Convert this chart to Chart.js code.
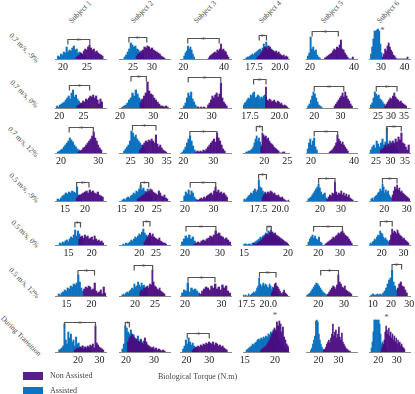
<!DOCTYPE html>
<html>
<head>
<meta charset="utf-8">
<script src="https://cdn.jsdelivr.net/npm/chart.js@4.4.1/dist/chart.umd.min.js"></script>
<style>
  body { margin: 0; background: #fff; }
  #fig { position: relative; width: 415px; height: 394px; overflow: hidden; background: #fff; font-family: "Liberation Serif", serif; }
  #fig canvas { position: absolute; }
  .lbl { position: absolute; white-space: nowrap; color: #444; font-size: 7.5px; line-height: 1; }
  .box { position: absolute; width: 20px; height: 8px; }
</style>
</head>
<body>
<div id="fig"></div>
<script>
// rows = walking conditions, columns = subjects, panels listed row by row
const conditions = ['0.7 m/s, -9%', '0.7 m/s, 0%', '0.7 m/s, 12%', '0.5 m/s, -9%', '0.5 m/s, 0%', '0.5 m/s, 12%', 'During Transition'];
const subjects = ['Subject 1', 'Subject 2', 'Subject 3', 'Subject 4', 'Subject 5', 'Subject 6'];
const seriesNames = ['Non Assisted', 'Assisted'];
const xTitle = 'Biological Torque (N.m)';

const axisRange = [
  [18.3, 29], [21.3, 34.7], [18.4, 43.4], [16.44, 20.87], [18.2, 41.4], [24.9, 42.3],
  [19.1, 29.7], [19.7, 35.0], [18.8, 36.8], [16.9, 20.8], [16.9, 36.2], [21.5, 37.3],
  [18.4, 32.1], [21.75, 35.9], [18.9, 35.9], [15.4, 25.4], [17.7, 41.4], [22.6, 36.7],
  [12.5, 25.25], [14.2, 28.8], [18.2, 36.2], [15.7, 21.0], [13.3, 37.6], [13.2, 31.5],
  [12.1, 23.1], [13.9, 29.2], [18.6, 33.1], [14.9, 20.1], [14.3, 37.8], [14.1, 33.0],
  [12.7, 22.9], [16, 28.75], [18.6, 32.6], [17.1, 22.4], [15.2, 35], [8, 30.4],
  [9.3, 33], [17.5, 35.7], [17.1, 39.6], [14.7, 22.3], [13.8, 39.3], [14.9, 37.3]
];

const tickLabels = [
  ['20', '25'], ['25', '30'], ['20', '40'], ['17.5', '20.0'], ['20', '40'], ['30', '40'],
  ['20', '25'], ['20', '30'], ['20', '30'], ['17.5', '20.0'], ['20', '30'], ['25', '30', '35'],
  ['20', '30'], ['25', '30', '35'], ['20', '30'], ['20', '25'], ['20', '40'], ['25', '30', '35'],
  ['15', '20'], ['15', '20', '25'], ['20', '30'], ['17.5', '20.0'], ['20', '30'], ['20', '30'],
  ['15', '20'], ['20', '25'], ['20', '30'], ['15', '20'], ['20', '30'], ['20', '30'],
  ['15', '20'], ['20', '25'], ['20', '30'], ['17.5', '20.0'], ['20', '30'], ['10', '20', '30'],
  ['20', '30'], ['20', '30'], ['20', '30'], ['15', '20'], ['20', '30'], ['20', '30']
];

const binWidth = [
  0.3, 0.4, 0.6, 0.12, 0.6, 0.5,
  0.3, 0.5, 0.5, 0.1, 0.5, 0.5,
  0.4, 0.4, 0.5, 0.25, 0.6, 0.5,
  0.4, 0.4, 0.5, 0.15, 0.6, 0.5,
  0.3, 0.4, 0.5, 0.15, 0.6, 0.5,
  0.3, 0.3, 0.5, 0.12, 0.5, 0.8,
  0.6, 0.5, 0.6, 0.2, 0.5, 0.5
];

const assistedStart = [
  18.8, 22.6, 20.2, 16.7, 18.8, 25.5,
  19.4, 20.5, 20.0, 16.9, 17.5, 22,
  19.0, 23, 19.5, 16, 18.2, 23,
  13, 15, 19.5, 15.8, 14.2, 14,
  13, 15, 19, 15, 15.2, 14.5,
  13.3, 16.7, 19, 17.1, 15.5, 9,
  11, 18.5, 18.2, 15.2, 16, 16
];

const assistedCounts = [
  [3, 2, 5, 4, 7, 6, 12, 7, 9, 8, 11, 13, 9, 10, 6, 7, 5, 4, 3, 2],
  [2, 4, 7, 10, 16, 14, 12, 13, 10, 9, 7, 5, 3],
  [3, 6, 8, 13, 10, 12, 9, 5, 2],
  [1, 2, 2, 3, 4, 5, 4, 6, 7, 8, 9, 10, 8, 11, 15, 12, 17, 13, 10, 9, 8, 7, 6, 5, 4, 3, 2, 1],
  [3, 6, 22, 10, 12, 8, 9, 4, 2, 1],
  [5, 12, 20, 28, 28, 29, 30, 28, 15, 6],

  [2, 1, 3, 4, 5, 6, 8, 10, 12, 9, 15, 18, 11, 13, 9, 7, 5, 3, 2],
  [1, 2, 3, 5, 8, 10, 15, 12, 18, 14, 10, 8, 6],
  [2, 5, 10, 15, 12, 16, 9, 6, 3, 1],
  [3, 5, 6, 8, 10, 9, 13, 12, 15, 16, 10, 11, 13, 12, 9, 11, 10, 12, 13, 11],
  [2, 4, 8, 12, 16, 14, 10, 6, 3, 2, 1],
  [3, 5, 10, 16, 14, 12, 13, 9, 8, 6, 4, 2],

  [1, 2, 3, 4, 6, 8, 10, 12, 15, 13, 11, 8, 6, 4, 3, 2],
  [2, 4, 6, 8, 12, 22, 20, 16, 18, 14, 12, 10, 8, 6, 4],
  [1, 3, 6, 10, 14, 17, 12, 7, 3],
  [1, 1, 2, 2, 3, 4, 6, 10, 14, 17, 12, 15, 11, 8, 4, 2],
  [4, 10, 14, 8, 12, 15, 6, 3],
  [3, 6, 8, 5, 12, 9, 6, 10, 14, 8, 11, 25, 9, 12, 8, 7, 10, 5, 3],

  [2, 1, 3, 5, 6, 8, 7, 9, 8, 10, 9, 8, 14, 6, 3],
  [1, 2, 1, 3, 4, 3, 5, 6, 8, 7, 10, 9, 12, 16, 11, 13, 10, 9, 12, 8, 6, 4],
  [5, 9, 7, 11, 6, 10, 8, 4, 2],
  [2, 1, 3, 5, 6, 8, 7, 10, 12, 9, 11, 21, 14, 13, 10, 8, 9, 6, 5, 3],
  [2, 3, 4, 6, 8, 10, 12, 14, 17, 13, 9, 6, 7, 8, 3, 1],
  [2, 3, 1, 4, 5, 6, 8, 9, 12, 10, 17, 14, 8, 11, 9, 10, 6, 4, 3, 2],

  [2, 1, 3, 2, 4, 5, 3, 6, 8, 7, 10, 15, 9, 14, 11, 8, 6],
  [1, 0, 2, 1, 2, 3, 5, 4, 6, 8, 7, 9, 11, 10, 13, 16, 12, 10, 8, 6, 4, 2],
  [3, 6, 9, 7, 10, 6, 8, 4],
  [1, 1, 0, 1, 1, 0, 2, 1, 3, 4, 5, 6, 8, 7, 9, 10, 12, 11, 14, 13, 10, 12, 9, 8, 7, 6, 5, 3, 2],
  [3, 6, 8, 10, 7, 9, 6, 5, 8, 3, 2],
  [2, 1, 3, 4, 6, 5, 8, 10, 9, 14, 12, 11, 8, 6, 7, 5, 4, 3],

  [2, 1, 3, 4, 6, 5, 8, 7, 10, 9, 12, 11, 13, 21, 14, 8, 5],
  [1, 2, 1, 3, 4, 3, 5, 6, 8, 7, 12, 9, 10, 14, 11, 9, 13, 10, 11, 8, 9],
  [3, 6, 5, 13, 4, 8, 6, 7, 5, 3],
  [1, 0, 1, 0, 0, 2, 0, 1, 2, 3, 4, 3, 5, 8, 10, 18, 12, 9, 11, 13, 10, 12, 11, 9, 8, 12, 10, 7, 9, 6, 5, 4, 3, 2],
  [1, 2, 3, 5, 7, 9, 11, 13, 12, 10, 8, 6, 4, 3, 2, 1],
  [1, 2, 1, 1, 2, 1, 2, 1, 3, 5, 8, 12, 16, 18, 26, 14, 10, 6],

  [2, 3, 4, 6, 28, 12, 8, 20, 14, 18, 10, 12, 6, 15, 8, 9, 5, 4, 6, 3, 5, 2, 4, 3, 2, 1],
  [3, 8, 26, 24, 20, 18, 22, 15, 17, 14, 12, 16, 10, 13, 9, 11, 7, 8, 5, 4, 3, 2],
  [3, 6, 12, 8, 14, 10, 7, 9, 6, 5, 3],
  [2, 3, 4, 5, 6, 8, 7, 9, 10, 12, 13, 12, 14, 13, 15, 14, 16, 15, 18, 17, 20, 19, 22, 21, 18, 20, 16, 12, 10, 8, 6, 4, 3, 2],
  [2, 4, 8, 12, 16, 31, 32, 30, 18, 12, 8, 5, 3, 2],
  [4, 10, 20, 32, 32, 32, 32, 32, 32, 28, 18, 8, 10, 6, 4, 8, 3, 2]
];

const nonAssistedStart = [
  22.7, 25.8, 32.2, 17.78, 26.6, 30.5,
  23.6, 26.0, 25.0, 18.8, 27.5, 27.5,
  24.6, 27.4, 24, 19.25, 28.4, 26.5,
  17.8, 19.4, 24, 17.9, 23.2, 23.5,
  17.2, 21.4, 22.5, 16.05, 23, 23.5,
  18.4, 21.2, 24, 20.34, 23.5, 23.4,
  18.2, 20.5, 22.4, 17.6, 22.5, 21.5
];

const nonAssistedCounts = [
  [2, 3, 4, 6, 5, 8, 10, 9, 12, 14, 11, 9, 10, 7, 8, 6, 5, 4, 3],
  [3, 5, 6, 8, 9, 12, 11, 13, 12, 10, 11, 9, 8, 7, 6, 5, 3, 2, 1],
  [1, 3, 4, 5, 6, 7, 6, 9, 8, 10, 15, 9, 10, 8, 7, 4, 2],
  [2, 3, 4, 6, 8, 10, 12, 11, 9, 13, 12, 10, 9, 8, 7, 8, 6, 7, 5, 4, 3, 4, 2, 3, 2],
  [1, 2, 3, 4, 5, 6, 8, 10, 9, 12, 11, 14, 19, 10, 9, 6, 4, 2, 0, 0, 0, 2],
  [2, 5, 10, 8, 13, 16, 12, 9, 7, 4, 3, 1, 0, 0, 0, 0, 0, 0, 0, 0, 0, 2],

  [2, 3, 4, 5, 7, 6, 9, 8, 10, 12, 11, 13, 10, 12, 8, 4, 9, 6],
  [5, 9, 12, 15, 26, 17, 14, 13, 10, 8, 6, 4, 2, 2, 1, 2, 1],
  [1, 0, 1, 0, 1, 0, 0, 3, 5, 8, 12, 10, 13, 15, 11, 14, 25, 10, 6, 4, 2],
  [21, 8, 7, 9, 8, 6, 7, 8, 6, 5, 7, 6, 4, 5, 3, 2, 3, 2, 1],
  [2, 4, 6, 8, 10, 12, 15, 11, 16, 12, 9, 7, 4, 2],
  [2, 4, 6, 8, 10, 9, 12, 15, 11, 9, 8, 6, 7, 5, 4, 3, 2],

  [1, 2, 3, 5, 6, 8, 10, 12, 14, 17, 21, 15, 12, 8, 5, 3],
  [3, 5, 8, 10, 12, 11, 13, 12, 14, 12, 10, 18, 9, 6, 8, 5, 3, 2, 1],
  [1, 2, 1, 2, 1, 3, 2, 4, 6, 8, 10, 12, 14, 11, 20, 15, 12, 8, 4, 2],
  [6, 20, 18, 16, 17, 14, 15, 12, 10, 9, 8, 6, 5, 4, 3, 2, 0, 0, 0, 1, 1],
  [1, 2, 3, 5, 7, 10, 18, 14, 12, 9, 11, 8, 6, 4, 2],
  [3, 4, 5, 8, 6, 9, 7, 10, 12, 9, 14, 11, 16, 13, 20, 10, 9, 6, 3, 8],

  [3, 5, 6, 7, 8, 9, 10, 8, 11, 9, 10, 8, 7, 9, 6, 5, 4],
  [2, 3, 4, 5, 6, 7, 9, 8, 10, 12, 11, 9, 8, 7, 6, 10, 8, 5, 4, 6, 3, 2],
  [1, 1, 2, 3, 2, 4, 3, 5, 6, 7, 8, 6, 10, 14, 9, 11, 8, 9, 7, 8, 6, 4],
  [4, 6, 8, 7, 9, 8, 10, 9, 7, 8, 6, 5, 6, 4, 3, 4, 2, 1, 0, 0, 1],
  [2, 4, 6, 5, 8, 7, 19, 9, 6, 8, 7, 10, 6, 8, 5, 7, 4, 6, 3, 2, 1],
  [6, 10, 14, 12, 16, 11, 13, 9, 10, 8, 7, 6, 5, 4, 3, 2],

  [6, 8, 9, 7, 10, 8, 9, 6, 7, 8, 5, 9, 6, 4, 5, 3, 4, 2],
  [3, 5, 8, 10, 12, 9, 11, 8, 7, 6, 5, 7, 4, 3, 2, 2, 1],
  [1, 2, 3, 2, 4, 5, 4, 6, 7, 9, 8, 10, 14, 11, 12, 9, 8, 6, 7, 5, 3],
  [2, 0, 1, 2, 3, 4, 5, 7, 8, 10, 11, 9, 12, 15, 13, 11, 12, 10, 9, 8, 7, 6, 5, 4, 3, 2, 1],
  [1, 2, 3, 4, 5, 6, 8, 7, 9, 10, 12, 11, 13, 14, 12, 10, 9, 8, 6, 4, 2],
  [5, 10, 16, 12, 14, 13, 11, 15, 12, 10, 9, 8, 6, 7, 5, 4, 3, 2],

  [7, 9, 8, 10, 9, 6, 7, 13, 5, 3, 4, 6, 2, 9, 3],
  [4, 6, 5, 8, 7, 9, 10, 8, 12, 11, 26, 14, 10, 9, 7, 6, 8, 5, 4, 3, 2],
  [2, 5, 7, 9, 8, 6, 10, 8, 12, 7, 9, 6, 11, 8, 10, 5, 3],
  [3, 5, 8, 12, 13, 10, 9, 7, 5, 3, 2, 4, 6, 3, 2, 1],
  [2, 4, 6, 8, 10, 9, 7, 11, 21, 14, 12, 9, 8, 10, 6, 5, 4, 3, 2],
  [8, 12, 14, 10, 9, 6, 3],

  [2, 3, 4, 3, 5, 4, 6, 3, 5, 4, 6, 5, 7, 6, 8, 4, 26, 9, 7, 5, 4, 3, 2],
  [10, 14, 16, 18, 15, 12, 13, 11, 10, 12, 9, 8, 14, 10, 7, 6, 5, 4, 5, 3, 4, 2, 3, 2, 1, 2, 1],
  [2, 3, 4, 5, 6, 5, 7, 6, 8, 7, 9, 8, 10, 9, 8, 10, 7, 9, 8, 6, 7, 5, 6, 4, 3, 2],
  [2, 3, 4, 5, 6, 8, 10, 12, 15, 18, 20, 24, 22, 30, 26, 31, 28, 20, 25, 15, 12, 8, 6, 4, 2, 1],
  [2, 3, 5, 8, 10, 12, 9, 14, 18, 28, 16, 20, 22, 14, 18, 25, 15, 12, 19, 10, 8, 6, 4, 3, 2, 1, 1],
  [3, 5, 8, 12, 20, 26, 22, 18, 24, 16, 20, 14, 18, 12, 16, 10, 14, 8, 12, 9, 10, 6, 8, 5, 4, 3]
];

// [from, to, height] = bracket with star, [x, height] = star only, null = nothing
const significance = [
  [21, 25.6, 20], [23.9, 28.6, 22], [22.2, 37.6, 21], [18.0, 18.7, 24], [21, 32.9, 28], [30.6, 30],
  [22.1, 26.3, 23], [23.3, 27.9, 32], [21.7, 33.2, 31], [17.8, 18.85, 29], [20, 31.2, 22], [24.3, 32.3, 22],
  [22.2, 28.7, 26], [25.5, 32.0, 28], [22.2, 31.2, 22], [18.3, 19.6, 27], [21.5, 32.4, 22], [28.7, 33.7, 27],
  [17.9, 21, 19], [20.4, 22.7, 19], [21.8, 30.8, 19], [17.5, 18.4, 27], [19.3, 27.1, 23], [19.2, 25.7, 23],
  [16.4, 17.6, 23], [21.2, 23.2, 24], [20.3, 28.8, 19], [17.6, 18.1, 19], [17.8, 31.1, 19], [19.3, 24.8, 24],
  [17.3, 20.6, 26], [19.8, 24.4, 31], [20.8, 28.2, 19], [19.0, 20.9, 24], [20.9, 27.8, 26], [20.6, 25.8, 32],
  [13.7, 28.1, 30], [19.75, 21.2, 30], [20.3, 30, 19], [20.0, 38], null, [24.5, 36]
];

// layout (pixels)
const colLeft = [55, 119, 180, 243, 306, 369];
const colRight = [106, 170, 231, 289, 357, 410];
const rowBase = [59, 108, 153, 201, 245, 296, 352];
const headPos = [[80, 12], [142, 12], [205, 12], [270, 12], [332, 12], [388, 12]];
const rowLabelPos = [[24, 48], [24, 94], [23, 142], [24, 188], [25, 234], [24, 283], [21, 336]];

const purple = 'rgba(74, 11, 128, 0.92)';
const blue = '#0d72bf';
const plotH = 44;
const axisH = 16;
const pad = 14;
const fig = document.getElementById('fig');

// bin centres rounded so both series share exactly the same x grid
const toBins = (start, w, counts) => counts.map((c, k) => ({ x: Math.round((start + (k + 0.5) * w) * 1e6) / 1e6, y: c }));

const sigPlugin = (i) => ({
  id: 'sig' + i,
  afterDatasetsDraw: (chart) => {
    const m = significance[i];
    if (!m) return;
    const { ctx, scales: { x, y } } = chart;
    ctx.save();
    ctx.strokeStyle = '#555';
    ctx.fillStyle = '#555';
    ctx.lineWidth = 1.2;
    let cx, top;
    if (m.length === 3) {
      const xa = x.getPixelForValue(m[0]);
      const xb = x.getPixelForValue(m[1]);
      top = Math.round(y.getPixelForValue(m[2])) + 0.5;
      ctx.beginPath();
      ctx.moveTo(xa, top + 5);
      ctx.lineTo(xa, top);
      ctx.lineTo(xb, top);
      ctx.lineTo(xb, top + 5);
      ctx.stroke();
      cx = (xa + xb) / 2;
    } else {
      cx = x.getPixelForValue(m[0]);
      top = y.getPixelForValue(m[1]);
    }
    ctx.font = '9px "Liberation Serif"';
    ctx.textAlign = 'center';
    ctx.textBaseline = 'alphabetic';
    ctx.fillText('*', cx, top + 4);
    ctx.restore();
  }
});

const addText = (txt, left, top, transform, size) => {
  const d = document.createElement('div');
  d.className = 'lbl';
  d.textContent = txt;
  d.style.left = left + 'px';
  d.style.top = top + 'px';
  if (size) d.style.fontSize = size + 'px';
  d.style.transform = transform;
  fig.appendChild(d);
};

subjects.forEach((s, c) => addText(s, headPos[c][0], headPos[c][1], 'translate(-50%, -50%) rotate(-45deg)'));
conditions.forEach((s, r) => addText(s, rowLabelPos[r][0], rowLabelPos[r][1], 'translate(-50%, -50%) rotate(45deg)'));

for (let r = 0; r < conditions.length; r++) {
  for (let c = 0; c < subjects.length; c++) {
    const i = r * subjects.length + c;
    const canvas = document.createElement('canvas');
    canvas.width = colRight[c] - colLeft[c] + 2 * pad;
    canvas.height = plotH + axisH;
    canvas.style.left = (colLeft[c] - pad) + 'px';
    canvas.style.top = (rowBase[r] - plotH) + 'px';
    fig.appendChild(canvas);

    new Chart(canvas, {
      type: 'bar',
      data: {
        datasets: [
          {
            label: seriesNames[0],
            data: toBins(nonAssistedStart[i], binWidth[i], nonAssistedCounts[i]),
            backgroundColor: purple,
            grouped: false,
            barPercentage: 1,
            categoryPercentage: 1
          },
          {
            label: seriesNames[1],
            data: toBins(assistedStart[i], binWidth[i], assistedCounts[i]),
            backgroundColor: blue,
            grouped: false,
            barPercentage: 1,
            categoryPercentage: 1
          }
        ]
      },
      options: {
        responsive: false,
        animation: false,
        devicePixelRatio: 1,
        layout: { padding: { left: pad, right: pad, top: 0, bottom: 0 } },
        plugins: { legend: { display: false }, tooltip: { enabled: false } },
        scales: {
          x: {
            type: 'linear',
            min: axisRange[i][0],
            max: axisRange[i][1],
            offset: false,
            grid: { display: false, drawTicks: false },
            border: { display: true, color: '#8a8a8a', width: 1 },
            ticks: {
              font: { family: 'Liberation Serif', size: 10 },
              color: '#222',
              padding: 2,
              maxRotation: 0,
              autoSkip: false,
              callback: (v, k) => tickLabels[i][k]
            },
            afterBuildTicks: (s) => { s.ticks = tickLabels[i].map(t => ({ value: parseFloat(t) })); },
            afterFit: (s) => { s.height = axisH; }
          },
          y: { display: false, min: 0, max: plotH }
        }
      },
      plugins: [sigPlugin(i)]
    });
  }
}

// legend and axis title
const legendBoxes = [[23, 372, purple], [23, 387, blue]];
legendBoxes.forEach((b, k) => {
  const d = document.createElement('div');
  d.className = 'box';
  d.style.left = b[0] + 'px';
  d.style.top = b[1] + 'px';
  d.style.background = b[2];
  fig.appendChild(d);
  addText(seriesNames[k], 50, b[1] + 4, 'translate(0, -50%)', 8);
});
addText(xTitle, 158, 377, 'translate(0, -50%)', 8);
</script>
</body>
</html>
